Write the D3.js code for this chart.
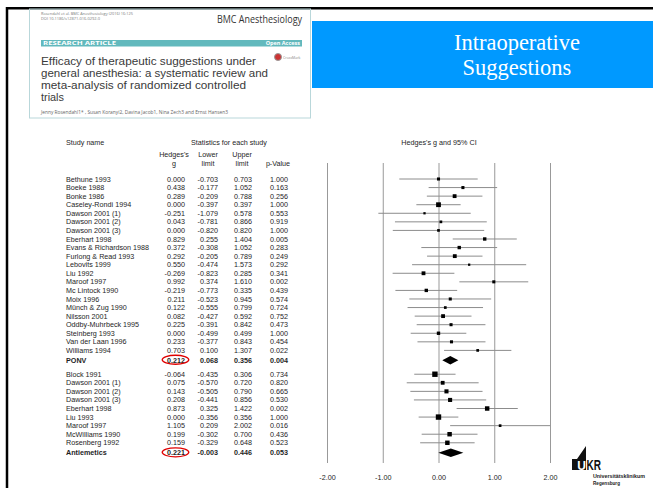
<!DOCTYPE html>
<html>
<head>
<meta charset="utf-8">
<script src="https://cdn.jsdelivr.net/npm/d3@7"></script>
<style>
  html, body { margin: 0; padding: 0; background: #fff; }
  svg { display: block; }
  .tbl { font-family: "Liberation Sans", Arial, sans-serif; font-size: 7.2px; fill: #1e1e1e; }
  .bold { font-weight: bold; }
</style>
</head>
<body>
<script>
// PONV studies
const ponvStudies = ["Bethune 1993", "Boeke 1988", "Bonke 1986", "Caseley-Rondi 1994", "Dawson 2001 (1)",
  "Dawson 2001 (2)", "Dawson 2001 (3)", "Eberhart 1998", "Evans & Richardson 1988", "Furlong & Read 1993",
  "Lebovits 1999", "Liu 1992", "Maroof 1997", "Mc Lintock 1990", "Moix 1996", "Münch & Zug 1990",
  "Nilsson 2001", "Oddby-Muhrbeck 1995", "Steinberg 1993", "Van der Laan 1996", "Williams 1994"];
const ponvG = [0.000, 0.438, 0.289, 0.000, -0.251, 0.043, 0.000, 0.829, 0.372, 0.292, 0.550, -0.269,
  0.992, -0.219, 0.211, 0.122, 0.082, 0.225, 0.000, 0.233, 0.703];
const ponvLower = [-0.703, -0.177, -0.209, -0.397, -1.079, -0.781, -0.820, 0.255, -0.308, -0.205, -0.474,
  -0.823, 0.374, -0.773, -0.523, -0.555, -0.427, -0.391, -0.499, -0.377, 0.100];
const ponvUpper = [0.703, 1.052, 0.788, 0.397, 0.578, 0.866, 0.820, 1.404, 1.052, 0.789, 1.573, 0.285,
  1.610, 0.335, 0.945, 0.799, 0.592, 0.842, 0.499, 0.843, 1.307];
const ponvP = [1.000, 0.163, 0.256, 1.000, 0.553, 0.919, 1.000, 0.005, 0.283, 0.249, 0.292, 0.341,
  0.002, 0.439, 0.574, 0.724, 0.752, 0.473, 1.000, 0.454, 0.022];
const ponvWeight = [9, 9, 14, 22, 5, 7, 7, 11, 11, 14, 5, 14, 9, 11, 9, 7, 14, 9, 11, 9, 7];
const ponvSummary = ["PONV", 0.212, 0.068, 0.356, 0.004];

// antiemetic studies
const antiStudies = ["Block 1991", "Dawson 2001 (1)", "Dawson 2001 (2)", "Dawson 2001 (3)", "Eberhart 1998",
  "Liu 1993", "Maroof 1997", "McWilliams 1990", "Rosenberg 1992"];
const antiG = [-0.064, 0.075, 0.143, 0.208, 0.873, 0.000, 1.105, 0.199, 0.159];
const antiLower = [-0.435, -0.570, -0.505, -0.441, 0.325, -0.356, 0.209, -0.302, -0.329];
const antiUpper = [0.306, 0.720, 0.790, 0.856, 1.422, 0.356, 2.002, 0.700, 0.648];
const antiP = [0.734, 0.820, 0.665, 0.530, 0.002, 1.000, 0.016, 0.436, 0.523];
const antiWeight = [28, 14, 16, 16, 19, 28, 7, 19, 19];
const antiSummary = ["Antiemetics", 0.221, -0.003, 0.446, 0.053];

const xTicks = [-2, -1, 0, 1, 2];

const W = 653, H = 488;
const svg = d3.select("body").append("svg").attr("width", W).attr("height", H);

// plain hyphen as minus, like the original
const locale = d3.formatLocale({ decimal: ".", thousands: ",", grouping: [3], currency: ["", ""], minus: "-" });

// ---- slide frame ----
svg.append("path").attr("d", `M7,${H} V8.3 H${W}`).attr("fill", "none")
  .attr("stroke", "#000").attr("stroke-width", 2.5);

// ---- blue title box ----
svg.append("rect").attr("x", 312).attr("y", 21).attr("width", W - 312).attr("height", 67).attr("fill", "#0099ff");
const title = svg.append("text").attr("text-anchor", "middle")
  .style("font-family", "'Liberation Serif', 'Times New Roman', serif").style("font-size", "22.5px").attr("fill", "#fff");
title.append("tspan").attr("x", 517).attr("y", 50).text("Intraoperative");
title.append("tspan").attr("x", 517).attr("y", 75).text("Suggestions");

// ---- article thumbnail ----
const art = svg.append("g");
art.append("rect").attr("x", 29.5).attr("y", 9).attr("width", 281).attr("height", 109)
  .attr("fill", "none").attr("stroke", "#b9d7da").attr("stroke-width", 1);
art.append("text").attr("x", 41).attr("y", 15).attr("textLength", 92).attr("lengthAdjust", "spacingAndGlyphs")
  .style("font-family", "'Open Sans', sans-serif").style("font-size", "4px").attr("fill", "#777")
  .text("Rosendahl et al. BMC Anesthesiology (2016) 16:125");
art.append("text").attr("x", 41).attr("y", 20).attr("textLength", 59).attr("lengthAdjust", "spacingAndGlyphs")
  .style("font-family", "'Open Sans', sans-serif").style("font-size", "4px").attr("fill", "#777")
  .text("DOI 10.1186/s12871-016-0292-0");
art.append("text").attr("x", 302).attr("y", 23).attr("text-anchor", "end")
  .attr("textLength", 85).attr("lengthAdjust", "spacingAndGlyphs")
  .style("font-family", "'Open Sans', sans-serif").style("font-size", "10.5px").attr("fill", "#333")
  .text("BMC Anesthesiology");
art.append("rect").attr("x", 41).attr("y", 40).attr("width", 261).attr("height", 6.5).attr("fill", "#62b9bd");
art.append("text").attr("x", 43).attr("y", 45.3).attr("textLength", 73).attr("lengthAdjust", "spacingAndGlyphs")
  .style("font-family", "'Open Sans', sans-serif").style("font-size", "5.5px").style("font-weight", "bold")
  .attr("fill", "#fff").text("RESEARCH ARTICLE");
art.append("text").attr("x", 300).attr("y", 45.3).attr("text-anchor", "end")
  .style("font-family", "'Open Sans', sans-serif").style("font-size", "5.5px").style("font-weight", "bold")
  .attr("fill", "#fff").text("Open Access");
const artTitle = ["Efficacy of therapeutic suggestions under", "general anesthesia: a systematic review and",
  "meta-analysis of randomized controlled", "trials"];
const artWidths = [215, 227, 205, 23];
artTitle.forEach((t, i) => {
  art.append("text").attr("x", 41).attr("y", 65 + i * 12)
    .attr("textLength", artWidths[i]).attr("lengthAdjust", "spacingAndGlyphs")
    .style("font-family", "'Liberation Sans', Arial, sans-serif").style("font-size", "10px").attr("fill", "#3a3a3a").text(t);
});
art.append("circle").attr("cx", 278).attr("cy", 57).attr("r", 3.5).attr("fill", "#c33").attr("stroke", "#999");
art.append("text").attr("x", 283).attr("y", 58.5).style("font-family", "'Open Sans', sans-serif")
  .style("font-size", "3.5px").attr("fill", "#888").text("CrossMark");
art.append("text").attr("x", 41).attr("y", 114).attr("textLength", 187).attr("lengthAdjust", "spacingAndGlyphs")
  .style("font-family", "'Open Sans', sans-serif").style("font-size", "4.5px").attr("fill", "#666")
  .text("Jenny Rosendahl1* , Susan Koranyi2, Davina Jacob1, Nina Zech3 and Ernst Hansen3");

// ---- rows ----
const rowStep = 8.57;
const yRow = d3.scaleLinear().domain([0, 1]).range([179, 179 + rowStep]);
const nP = ponvStudies.length, nA = antiStudies.length;
const ponvRows = ponvStudies.map((s, i) => ({ name: s, g: ponvG[i], lo: ponvLower[i], hi: ponvUpper[i], p: ponvP[i], w: ponvWeight[i], r: i }));
const ponvSumRow = nP - 1 + 1.15;
const antiStart = ponvSumRow + 1.63;
const antiRows = antiStudies.map((s, i) => ({ name: s, g: antiG[i], lo: antiLower[i], hi: antiUpper[i], p: antiP[i], w: antiWeight[i], r: antiStart + i }));
const antiSumRow = antiStart + nA - 1 + 1.17;
const studyRows = ponvRows.concat(antiRows);
const sumRows = [
  { name: ponvSummary[0], g: ponvSummary[1], lo: ponvSummary[2], hi: ponvSummary[3], p: ponvSummary[4], r: ponvSumRow },
  { name: antiSummary[0], g: antiSummary[1], lo: antiSummary[2], hi: antiSummary[3], p: antiSummary[4], r: antiSumRow }
];

// ---- table ----
const fmt = locale.format(".3f");
const tbl = svg.append("g").attr("class", "tbl");
tbl.append("text").attr("x", 66).attr("y", 145).text("Study name");
tbl.append("text").attr("x", 229).attr("y", 145).attr("text-anchor", "middle").text("Statistics for each study");
const heads = [["Hedges's", "g", 174], ["Lower", "limit", 208], ["Upper", "limit", 242], ["", "p-Value", 278]];
heads.forEach(h => {
  tbl.append("text").attr("x", h[2]).attr("y", 157).attr("text-anchor", "middle").text(h[0]);
  tbl.append("text").attr("x", h[2]).attr("y", 166).attr("text-anchor", "middle").text(h[1]);
});
const colX = [185, 218, 252, 288];
const allRows = studyRows.concat(sumRows);
allRows.forEach(d => {
  const isSum = d.w === undefined;
  const t = tbl.append("g").classed("bold", isSum);
  t.append("text").attr("x", 66).attr("y", yRow(d.r)).attr("dy", "0.35em").text(d.name);
  [d.g, d.lo, d.hi, d.p].forEach((v, j) => {
    t.append("text").attr("x", colX[j]).attr("y", yRow(d.r)).attr("dy", "0.35em")
      .attr("text-anchor", "end").text(fmt(v));
  });
});
// red rings around the pooled effects
sumRows.forEach(d => {
  svg.append("ellipse").attr("cx", 175.5).attr("cy", yRow(d.r) - 0.5).attr("rx", 13.3).attr("ry", 4.5)
    .attr("fill", "none").attr("stroke", "#e00000").attr("stroke-width", 1.3);
});

// ---- forest plot ----
const x = d3.scaleLinear().domain([-2, 2]).range([327, 550]);
const plotTop = 163, plotBottom = 463;
svg.append("text").attr("class", "tbl").attr("x", 439).attr("y", 145).attr("text-anchor", "middle")
  .text("Hedges's g and 95% CI");

const axis = svg.append("g").attr("transform", `translate(0,${plotBottom})`)
  .call(d3.axisBottom(x).tickValues(xTicks).tickFormat(locale.format(".2f"))
    .tickSizeInner(-(plotBottom - plotTop)).tickSizeOuter(0).tickPadding(11.5));
axis.select(".domain").remove();
axis.selectAll(".tick line").attr("stroke", "#999");
axis.selectAll(".tick text").attr("fill", "#1e1e1e")
  .style("font-family", "'Liberation Sans', Arial, sans-serif").style("font-size", "7.2px");

const size = d3.scaleSqrt().domain([0, 28]).range([0, 5.4]);
const plot = svg.append("g");
plot.selectAll("line.ci").data(studyRows).join("line").attr("class", "ci")
  .attr("x1", d => x(d.lo)).attr("x2", d => x(d.hi))
  .attr("y1", d => yRow(d.r)).attr("y2", d => yRow(d.r))
  .attr("stroke", "#8c8c8c").attr("stroke-width", 1);
plot.selectAll("rect.pt").data(studyRows).join("rect").attr("class", "pt")
  .attr("x", d => x(d.g) - size(d.w) / 2).attr("y", d => yRow(d.r) - size(d.w) / 2)
  .attr("width", d => size(d.w)).attr("height", d => size(d.w)).attr("fill", "#000");
plot.selectAll("path.dia").data(sumRows).join("path").attr("class", "dia")
  .attr("d", d => {
    const y = yRow(d.r);
    return `M${x(d.lo)},${y} L${x(d.g)},${y - 4.3} L${x(d.hi)},${y} L${x(d.g)},${y + 4.3} Z`;
  })
  .attr("fill", "#000");

// ---- UKR logo ----
const logo = svg.append("g");
logo.append("path").attr("d", "M572,470 V459 H577 L586,446 V470 Z").attr("fill", "#111");
logo.append("text").attr("x", 581.5).attr("y", 469.5).attr("text-anchor", "middle")
  .style("font-family", "'Liberation Sans', Arial, sans-serif").style("font-size", "12px").style("font-weight", "bold")
  .attr("fill", "#fff").text("U");
logo.append("text").attr("x", 586.5).attr("y", 470).attr("textLength", 14.5).attr("lengthAdjust", "spacingAndGlyphs")
  .style("font-family", "'Liberation Sans', Arial, sans-serif").style("font-size", "14px").style("font-weight", "bold")
  .attr("fill", "#111").text("KR");
logo.append("text").attr("x", 593).attr("y", 478).attr("textLength", 52).attr("lengthAdjust", "spacingAndGlyphs")
  .style("font-family", "'Liberation Sans', Arial, sans-serif").style("font-size", "5px").style("font-weight", "bold")
  .attr("fill", "#222").text("Universitätsklinikum");
logo.append("text").attr("x", 593).attr("y", 484.5).attr("textLength", 27).attr("lengthAdjust", "spacingAndGlyphs")
  .style("font-family", "'Liberation Sans', Arial, sans-serif").style("font-size", "5px").style("font-weight", "bold")
  .attr("fill", "#222").text("Regensburg");
</script>
</body>
</html>
